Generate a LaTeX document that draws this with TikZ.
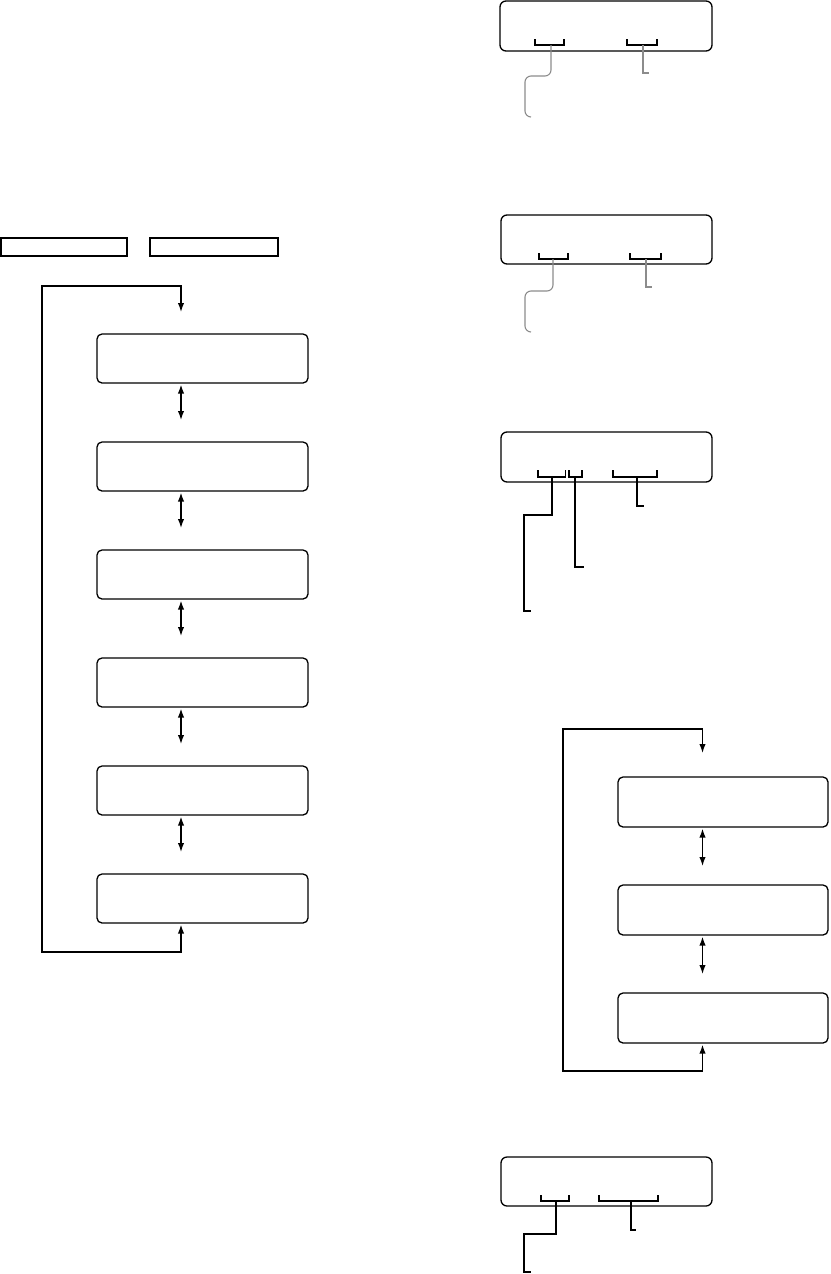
\documentclass[tikz,border=0pt]{standalone}
\usetikzlibrary{arrows.meta}
\begin{document}
\begin{tikzpicture}[x=0.5pt,y=-0.5pt,
  stbox/.style={draw,line width=0.65pt,rounded corners=2.5pt,inner sep=0pt,outer sep=0pt,minimum width=105.5pt,minimum height=24.5pt},
  rbox/.style={draw,line width=0.65pt,rounded corners=2.5pt,inner sep=0pt,outer sep=0pt,minimum width=105pt,minimum height=25pt},
  dbox/.style={draw,line width=0.65pt,rounded corners=3pt,inner sep=0pt,outer sep=0pt,minimum width=105.5pt,minimum height=25pt},
  tabbox/.style={draw,line width=0.65pt,inner sep=0pt,outer sep=0pt,minimum height=9pt},
  tip/.tip={Latex[length=4.5pt,width=3.2pt]},
  dbl/.style={line width=0.65pt,tip-tip},
  loopline/.style={line width=0.65pt},
  brk/.style={line width=0.55pt},
  lead/.style={line width=0.55pt},
  glead/.style={line width=0.55pt,draw=black!45,rounded corners=3pt}]
\useasboundingbox (0,0) rectangle (830,1274);

% top tabs
\node[tabbox,minimum width=63pt] (t1) at (64,247) {};
\node[tabbox,minimum width=64pt] (t2) at (214,247) {};

% left stack
\node[stbox] (l1) at (202.5,358.5) {};
\node[stbox] (l2) at (202.5,466.5) {};
\node[stbox] (l3) at (202.5,574.5) {};
\node[stbox] (l4) at (202.5,682.5) {};
\node[stbox] (l5) at (202.5,790.5) {};
\node[stbox] (l6) at (202.5,898.5) {};
\coordinate (axL) at (181,0);
\coordinate (ltop) at (181,312);
\foreach \a/\b in {l1/l2,l2/l3,l3/l4,l4/l5,l5/l6}
  \draw[dbl,shorten <=0.8pt,shorten >=11pt] (\a.south -| axL) -- (\b.north -| axL);
\draw[loopline,tip-tip,shorten <=0.8pt] (l6.south -| axL) -- (181,952) -- (42,952) -- (42,286) -- (181,286) -- (ltop);

% right stack
\node[rbox] (r1) at (723,802) {};
\node[rbox] (r2) at (723,910) {};
\node[rbox] (r3) at (723,1018) {};
\coordinate (axR) at (702.5,0);
\coordinate (rtop) at (702.5,753);
\foreach \a/\b in {r1/r2,r2/r3}
  \draw[dbl,shorten <=0.8pt,shorten >=9.5pt] (\a.south -| axR) -- (\b.north -| axR);
\draw[loopline,tip-tip,shorten <=0.8pt] (r3.south -| axR) -- (702.5,1071) -- (563,1071) -- (563,729) -- (702.5,729) -- (rtop);

% display 1
\node[dbox,minimum width=106pt] (d1) at (606,26) {};
\draw[brk] (535,39) -- (535,45) -- (564,45) -- (564,39);
\draw[brk] (627,39) -- (627,45) -- (657,45) -- (657,39);
\draw[glead] (551,45) -- (551,76) -- (525,76) -- (525,117) [sharp corners] -- (531,117);
\draw[lead,draw=black!45] (643,45) -- (643,73) -- (649,73);

% display 2
\node[dbox,minimum height=24.5pt] (d2) at (606.5,239.5) {};
\draw[brk] (539,253) -- (539,259) -- (568,259) -- (568,253);
\draw[brk] (630,253) -- (630,259) -- (661,259) -- (661,253);
\draw[glead] (553,259) -- (553,291) -- (525,291) -- (525,332) [sharp corners] -- (531,332);
\draw[lead,draw=black!45] (646,259) -- (646,287) -- (652,287);

% display 3
\node[dbox] (d3) at (606.5,457) {};
\draw[brk] (538,470) -- (538,477) -- (565.5,477) -- (565.5,470);
\draw[brk] (569,470) -- (569,477) -- (582,477) -- (582,470);
\draw[brk] (613,470) -- (613,477) -- (657,477) -- (657,470);
\draw[lead] (552,477) -- (552,515) -- (524,515) -- (524,611) -- (531,611);
\draw[lead] (575,477) -- (575,567) -- (584,567);
\draw[lead] (637,477) -- (637,506) -- (644,506);

% display 4
\node[dbox,minimum height=24.5pt] (d4) at (606.5,1181.5) {};
\draw[brk] (541,1195) -- (541,1201) -- (569,1201) -- (569,1195);
\draw[brk] (599,1195) -- (599,1201) -- (658,1201) -- (658,1195);
\draw[lead] (556,1201) -- (556,1234) -- (524,1234) -- (524,1272) -- (531,1272);
\draw[lead] (631,1201) -- (631,1230) -- (636,1230);
\end{tikzpicture}
\end{document}
